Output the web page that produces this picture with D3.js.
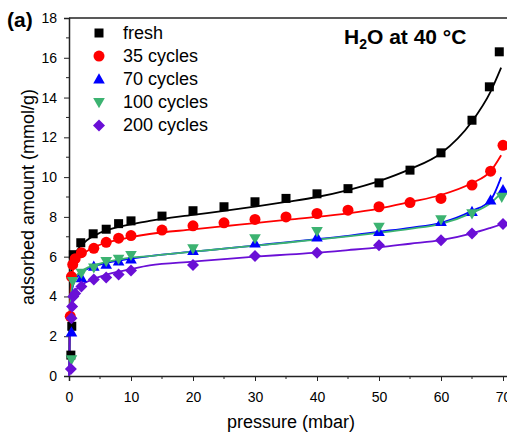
<!DOCTYPE html>
<html>
<head>
<meta charset="utf-8">
<script src="https://cdn.jsdelivr.net/npm/d3@7"></script>
<style>
  body { margin: 0; background: #fff; }
  svg { font-family: "Liberation Sans", Arial, sans-serif; }
</style>
</head>
<body>
<svg id="chart" width="507" height="433"></svg>
<script>
// measured points (pressure in mbar, uptake in mmol/g)
var pFresh = [0.3, 0.45, 0.7, 1.9, 3.9, 6, 8, 10, 15, 20, 25, 30, 35, 40, 45, 50, 55, 60, 65, 67.8, 69.4];
var yFresh = [1.05, 2.5, 6.1, 6.7, 7.15, 7.38, 7.66, 7.8, 8.04, 8.31, 8.51, 8.76, 8.93, 9.16, 9.42, 9.71, 10.35, 11.22, 12.86, 14.54, 16.3];

var p35 = [0.2, 0.4, 0.6, 1, 2, 4, 6, 8, 10, 15, 20, 25, 30, 35, 40, 45, 50, 55, 60, 65, 68, 70];
var y35 = [3.0, 5.0, 5.6, 5.9, 6.2, 6.42, 6.72, 6.93, 7.06, 7.34, 7.55, 7.7, 7.87, 8.0, 8.17, 8.34, 8.51, 8.72, 8.93, 9.6, 10.3, 11.6];

var p70 = [0.4, 2, 4, 6, 8, 10, 20, 30, 40, 50, 60, 65, 68, 70];
var y70 = [2.2, 4.93, 5.5, 5.6, 5.77, 5.87, 6.3, 6.67, 6.97, 7.25, 7.75, 8.26, 8.84, 9.35];

var p100 = [0.4, 0.6, 2, 4, 6, 8, 10, 20, 30, 40, 50, 60, 65, 69.8];
var y100 = [0.83, 4.77, 5.18, 5.45, 5.77, 5.89, 6.08, 6.41, 6.92, 7.28, 7.5, 7.87, 8.17, 9.0];

var p200 = [0.3, 0.4, 0.5, 0.7, 1, 2, 4, 6, 8, 10, 20, 30, 40, 50, 60, 65, 70];
var y200 = [0.35, 2.9, 3.5, 4.0, 4.15, 4.5, 4.85, 4.95, 5.1, 5.3, 5.58, 6.03, 6.2, 6.58, 6.83, 7.17, 7.64];

// fitted curves
var fitP = [0, 0.15, 0.4, 0.8, 1.5, 3, 5, 8, 10, 13, 20, 25, 30, 35, 40, 45, 50, 55, 60, 65, 68, 69.7];
var fitFresh = [0, 3.5, 5.4, 6.0, 6.4, 6.85, 7.2, 7.5, 7.62, 7.8, 8.1, 8.3, 8.52, 8.75, 9.0, 9.35, 9.8, 10.4, 11.2, 12.8, 14.3, 15.5];
var fit35 = [0, 3.3, 4.9, 5.5, 5.9, 6.3, 6.6, 6.85, 6.98, 7.14, 7.37, 7.53, 7.69, 7.85, 8.0, 8.18, 8.42, 8.75, 9.1, 9.7, 10.3, 11.1];
var fit70 = [0, 2.8, 4.1, 4.7, 5.05, 5.4, 5.6, 5.8, 5.9, 6.03, 6.25, 6.4, 6.56, 6.72, 6.88, 7.05, 7.25, 7.45, 7.7, 8.3, 8.85, 10.0];
var fit100 = [0, 3.1, 4.3, 4.85, 5.15, 5.45, 5.65, 5.85, 5.95, 6.03, 6.25, 6.4, 6.55, 6.7, 6.86, 7.02, 7.2, 7.4, 7.65, 8.2, 8.7, 9.2];
var fit200 = [0, 2.6, 3.7, 4.15, 4.45, 4.75, 5.0, 5.25, 5.38, 5.56, 5.75, 5.88, 6.0, 6.1, 6.2, 6.33, 6.47, 6.65, 6.83, 7.17, 7.45, 7.62];

var seriesNames = ["fresh", "35 cycles", "70 cycles", "100 cycles", "200 cycles"];
var seriesColors = ["#000000", "#ff0000", "#0000ff", "#3cb371", "#6a0fd6"];
var seriesShapes = ["square", "circle", "up", "down", "diamond"];

var xTicks = [0, 10, 20, 30, 40, 50, 60, 70];
var yTicks = [0, 2, 4, 6, 8, 10, 12, 14, 16, 18];

var series = [
  {p: pFresh, y: yFresh, fit: fitFresh},
  {p: p35, y: y35, fit: fit35},
  {p: p70, y: y70, fit: fit70},
  {p: p100, y: y100, fit: fit100},
  {p: p200, y: y200, fit: fit200}
];

var svg = d3.select("#chart");
var plotLeft = 69, plotTop = 18, plotBottom = 376;

var xScale = d3.scaleLinear().domain([0, 72]).range([plotLeft, plotLeft + 6.2 * 72]);
var yScale = d3.scaleLinear().domain([0, 18]).range([plotBottom, plotTop]);

function markerPath(shape) {
  var p = d3.path();
  if (shape == "square") { p.rect(-4.5, -4.5, 9, 9); }
  else if (shape == "circle") { p.arc(0, 0, 5.5, 0, 2 * Math.PI); }
  else if (shape == "up") { p.moveTo(0, -6); p.lineTo(5.8, 4.2); p.lineTo(-5.8, 4.2); p.closePath(); }
  else if (shape == "down") { p.moveTo(0, 6); p.lineTo(5.8, -4.2); p.lineTo(-5.8, -4.2); p.closePath(); }
  else { p.moveTo(0, -6); p.lineTo(6, 0); p.lineTo(0, 6); p.lineTo(-6, 0); p.closePath(); }
  return p.toString();
}

// axes
var xAxis = d3.axisBottom(xScale).tickValues(xTicks).tickSize(5).tickPadding(11);
var yAxis = d3.axisLeft(yScale).tickValues(yTicks).tickSize(5).tickPadding(7);

var gx = svg.append("g").attr("transform", "translate(0," + plotBottom + ")").call(xAxis);
gx.append("g").selectAll("line")
  .data(d3.range(5, 75, 10))
  .enter().append("line")
  .attr("x1", function(d) { return xScale(d); })
  .attr("x2", function(d) { return xScale(d); })
  .attr("y1", 0).attr("y2", 3)
  .attr("stroke", "#222");

var gy = svg.append("g").attr("transform", "translate(" + plotLeft + ",0)").call(yAxis);
gy.append("g").selectAll("line")
  .data(d3.range(1, 18, 2))
  .enter().append("line")
  .attr("x1", 0).attr("x2", -3)
  .attr("y1", function(d) { return yScale(d); })
  .attr("y2", function(d) { return yScale(d); })
  .attr("stroke", "#222");

svg.selectAll(".domain").attr("stroke", "#222").attr("stroke-width", 1.5);
svg.selectAll(".tick line").attr("stroke", "#222");
svg.selectAll(".tick text").attr("font-size", "14px").attr("fill", "#000")
  .attr("font-family", "Liberation Sans, Arial, sans-serif");

// top frame
svg.append("line")
  .attr("x1", plotLeft).attr("x2", 507)
  .attr("y1", plotTop).attr("y2", plotTop)
  .attr("stroke", "#222").attr("stroke-width", 1.5);

// fit lines
var fitLine = d3.line()
  .x(function(d) { return xScale(d[0]); })
  .y(function(d) { return yScale(d[1]); })
  .curve(d3.curveMonotoneX);

series.forEach(function(s, i) {
  svg.append("path")
    .datum(fitP.map(function(p, j) { return [p, s.fit[j]]; }))
    .attr("d", fitLine)
    .attr("fill", "none")
    .attr("stroke", seriesColors[i])
    .attr("stroke-width", 1.8);
});

// points
series.forEach(function(s, i) {
  svg.append("g").selectAll("path")
    .data(s.p.map(function(p, j) { return [p, s.y[j]]; }))
    .enter().append("path")
    .attr("transform", function(d) { return "translate(" + xScale(d[0]) + "," + yScale(d[1]) + ")"; })
    .attr("d", markerPath(seriesShapes[i]))
    .attr("fill", seriesColors[i]);
});

// legend
var legend = svg.append("g");
seriesNames.forEach(function(name, i) {
  var ly = 33 + i * 23.1;
  legend.append("path")
    .attr("transform", "translate(99," + ly + ")")
    .attr("d", markerPath(seriesShapes[i]))
    .attr("fill", seriesColors[i]);
  legend.append("text")
    .attr("x", 123).attr("y", ly + 6)
    .attr("font-size", "18px")
    .text(name);
});

// labels
var title = svg.append("text")
  .attr("x", 344).attr("y", 44)
  .attr("font-size", "21px").attr("font-weight", "bold");
title.append("tspan").text("H");
title.append("tspan").attr("font-size", "14px").attr("dy", 5).text("2");
title.append("tspan").attr("dy", -5).text("O at 40 °C");

svg.append("text")
  .attr("x", 7).attr("y", 27)
  .attr("font-size", "21px").attr("font-weight", "bold")
  .text("(a)");

svg.append("text")
  .attr("x", (plotLeft + 507) / 2 + 3).attr("y", 428)
  .attr("text-anchor", "middle")
  .attr("font-size", "18px")
  .text("pressure (mbar)");

svg.append("text")
  .attr("transform", "translate(34," + (plotTop + plotBottom) / 2 + ") rotate(-90)")
  .attr("text-anchor", "middle")
  .attr("font-size", "18px")
  .text("adsorbed amount (mmol/g)");
</script>
</body>
</html>
